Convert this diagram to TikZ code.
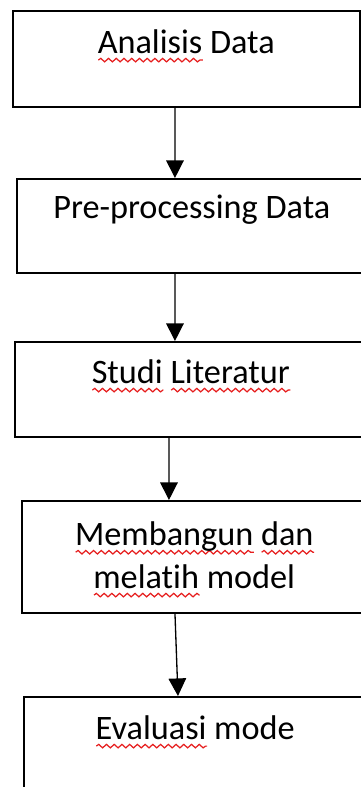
\documentclass[tikz,border=0pt]{standalone}
\usepackage{fontspec}
\setmainfont{Carlito}[Ligatures=NoCommon]
\usepackage{xcolor}
\usepackage{tikz}
\usetikzlibrary{arrows.meta}
\usetikzlibrary{decorations.pathmorphing}
\definecolor{typored}{RGB}{230,30,30}
\newlength{\typowidth}
\newcommand{\typo}[1]{\settowidth{\typowidth}{#1}\rlap{\tikz[baseline=0pt]\draw[typored, line width=0.7pt, decorate, decoration={snake, amplitude=1pt, segment length=4.4pt}] (0pt,-3.6pt) -- (\typowidth,-3.6pt);}#1}
\tikzset{
    stage/.style={draw, rectangle, anchor=north west, line width=0.9pt, inner sep=0pt,
        align=center, text height=0.86cm, text depth=#1,
        font=\fontsize{19.5pt}{24.4pt}\selectfont},
    flow/.style={-{Triangle[width=10pt, length=10pt]}, line width=0.75pt}
}

\begin{document}
\begin{tikzpicture}[x=0.02cm, y=-0.02cm]
              \clip (0,0) rectangle (361,787);

              \node[stage=1.06cm, minimum width=6.94cm] (analisis) at (12,10) {\typo{Analisis} Data};
              \node[stage=1.08cm, minimum width=7.0cm, text height=0.8cm] (preproc) at (16,178) {Pre-processing Data};
              \node[stage=1.06cm, minimum width=7.04cm, text height=0.84cm] (studi) at (14,341) {\typo{Studi} \typo{Literatur}};
              \node[stage=0.48cm, minimum width=6.9cm, text height=1.76cm] (membangun) at (21,500) {\typo{Membangun} \typo{dan}\\\typo{melatih} model};
              \node[stage=1.34cm, minimum width=6.86cm] (evaluasi) at (23,696) {\typo{Evaluasi} mode};

              \draw[flow] ([xshift=3.26cm]analisis.south west) -- ([xshift=3.18cm]preproc.north west);
              \draw[flow] ([xshift=3.18cm]preproc.south west) -- ([xshift=3.22cm]studi.north west);
              \draw[flow] ([xshift=3.1cm]studi.south west) -- ([xshift=2.96cm]membangun.north west);
              \draw[flow] ([xshift=3.08cm]membangun.south west) -- ([xshift=3.1cm]evaluasi.north west);
            \end{tikzpicture}
\end{document}
